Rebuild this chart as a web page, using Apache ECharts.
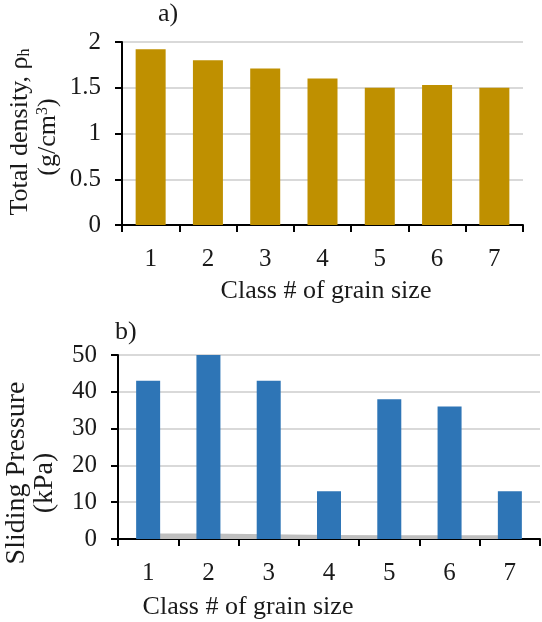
<!DOCTYPE html>
<html>
<head>
<meta charset="utf-8">
<script src="https://cdn.jsdelivr.net/npm/echarts@6/dist/echarts.min.js"></script>
<style>
html,body{margin:0;padding:0;background:#fff;}
#c{width:542px;height:622px;}
</style>
</head>
<body>
<div id="c"></div>
<script>
const categories = ['1','2','3','4','5','6','7'];
const densityValues = [1.92, 1.80, 1.71, 1.60, 1.50, 1.53, 1.50];
const pressureValues = [43, 50, 43, 13, 38, 36, 13];
const baseBandValues = [1.5, 1.5, 1.3, 1.1, 1.0, 1.0, 1.0];
const densityTicks = {min: 0, max: 2, interval: 0.5};
const pressureTicks = {min: 0, max: 50, interval: 10};

const FONT = '"Liberation Serif", "Times New Roman", serif';
const TXT = '#1a1a1a';
const TICK_FS = 25;
const TITLE_FS = 26;
const BTITLE_FS = 28;

function catAxis(gridIndex) {
  return {
    type: 'category', gridIndex: gridIndex, data: categories,
    axisLine: {show: true, lineStyle: {color: '#000', width: 2}},
    axisTick: {show: true, length: 7, lineStyle: {color: '#000', width: 2}},
    axisLabel: {fontFamily: FONT, fontSize: TICK_FS, color: TXT, margin: 22}
  };
}
function valAxis(gridIndex, t) {
  return {
    type: 'value', gridIndex: gridIndex, min: t.min, max: t.max, interval: t.interval,
    axisLine: {show: true, lineStyle: {color: '#000', width: 2}},
    axisTick: {show: true, length: 7, lineStyle: {color: '#000', width: 2}},
    splitLine: {show: true, lineStyle: {color: '#d9d9d9', width: 2}},
    axisLabel: {fontFamily: FONT, fontSize: TICK_FS, color: TXT, margin: 21}
  };
}

const chart = echarts.init(document.getElementById('c'), null, {renderer: 'canvas'});
chart.setOption({
  animation: false,
  backgroundColor: '#fff',
  grid: [
    {left: 122, top: 42, right: 19, height: 183},
    {left: 118, top: 355, right: 2, height: 184}
  ],
  xAxis: [catAxis(0), catAxis(1)],
  yAxis: [valAxis(0, densityTicks), valAxis(1, pressureTicks)],
  series: [
    {type: 'bar', xAxisIndex: 0, yAxisIndex: 0, data: densityValues,
     barWidth: 30, itemStyle: {color: '#BF9000'}},
    {type: 'line', xAxisIndex: 1, yAxisIndex: 1, data: baseBandValues,
     symbol: 'none', lineStyle: {width: 0, color: '#bfbfbf'},
     areaStyle: {color: '#bfbfbf', opacity: 1}, z: 1},
    {type: 'bar', xAxisIndex: 1, yAxisIndex: 1, data: pressureValues,
     barWidth: 24, itemStyle: {color: '#2E75B6'}, z: 3}
  ],
  graphic: [
    {type: 'text', left: 158, top: 1, style: {text: 'a)', font: TITLE_FS + 'px ' + FONT, fill: TXT}},
    {type: 'text', left: 115, top: 319, style: {text: 'b)', font: TITLE_FS + 'px ' + FONT, fill: TXT}},
    {type: 'text', x: 326, y: 291, style: {text: 'Class # of grain size', font: TITLE_FS + 'px ' + FONT, fill: TXT, align: 'center', verticalAlign: 'middle'}},
    {type: 'text', x: 248, y: 607, style: {text: 'Class # of grain size', font: TITLE_FS + 'px ' + FONT, fill: TXT, align: 'center', verticalAlign: 'middle'}},
    {type: 'text', x: 20, y: 132, rotation: Math.PI / 2,
     style: {text: 'Total density, {r|ρ}{s|h}', font: TITLE_FS + 'px ' + FONT, fill: TXT, align: 'center', verticalAlign: 'middle',
       rich: {r: {fontFamily: FONT, fontSize: TITLE_FS, fill: TXT}, s: {fontFamily: FONT, fontSize: 16, fill: TXT, padding: [9, 0, 0, 0]}}}},
    {type: 'text', x: 48, y: 137, rotation: Math.PI / 2,
     style: {text: '(g/cm{p|3})', font: TITLE_FS + 'px ' + FONT, fill: TXT, align: 'center', verticalAlign: 'middle',
       rich: {p: {fontFamily: FONT, fontSize: 16, fill: TXT, padding: [0, 0, 10, 0]}}}},
    {type: 'text', x: 17, y: 473, rotation: Math.PI / 2,
     style: {text: 'Sliding Pressure', font: BTITLE_FS + 'px ' + FONT, fill: TXT, align: 'center', verticalAlign: 'middle'}},
    {type: 'text', x: 45, y: 483, rotation: Math.PI / 2,
     style: {text: '(kPa)', font: BTITLE_FS + 'px ' + FONT, fill: TXT, align: 'center', verticalAlign: 'middle'}}
  ]
});
</script>
</body>
</html>
